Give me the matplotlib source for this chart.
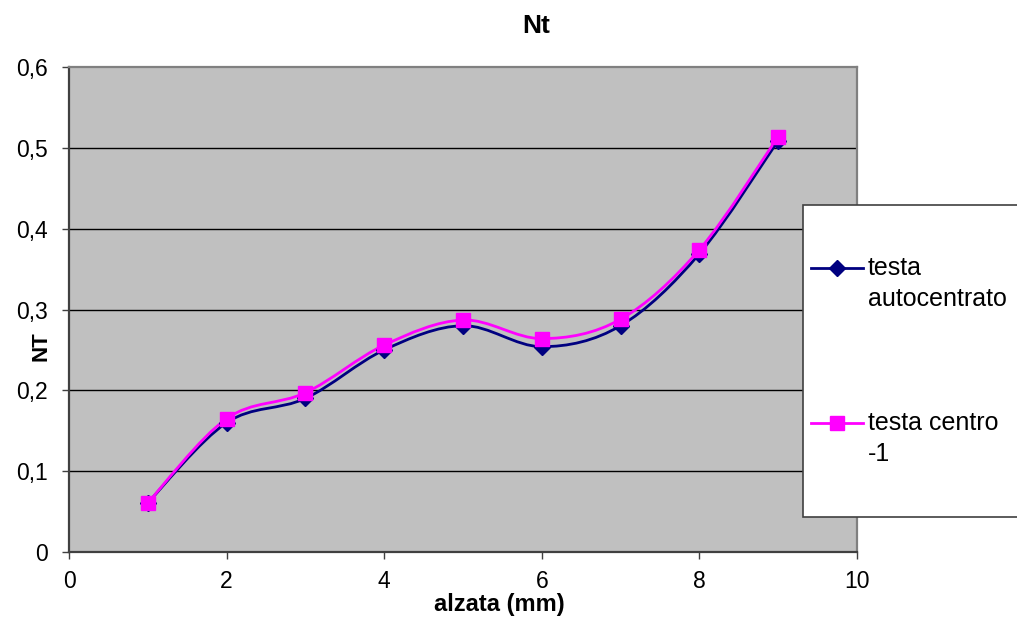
import numpy as np
import matplotlib
matplotlib.use("Agg")
import matplotlib.pyplot as plt
from matplotlib.path import Path
from matplotlib.patches import PathPatch, Rectangle
from matplotlib.lines import Line2D

plt.rcParams["font.family"] = ["Liberation Sans", "DejaVu Sans"]

# data
alzata = [1, 2, 3, 4, 5, 6, 7, 8, 9]
testa_autocentrato = [0.061, 0.160, 0.190, 0.250, 0.280, 0.254, 0.280, 0.369, 0.509]
testa_centro_m1 = [0.061, 0.165, 0.197, 0.256, 0.287, 0.264, 0.288, 0.374, 0.514]
series_names = ["testa\nautocentrato", "testa centro\n-1"]
x_ticks = [0, 2, 4, 6, 8, 10]
y_ticks = [0, 0.1, 0.2, 0.3, 0.4, 0.5, 0.6]
y_tick_labels = ["0", "0,1", "0,2", "0,3", "0,4", "0,5", "0,6"]

W, H = 1017, 617
fig = plt.figure(figsize=(W / 100, H / 100), dpi=100)
fig.patch.set_facecolor("white")


def fx(px):
    return px / W


def fy(py):
    return 1 - py / H


ax = fig.add_axes([fx(69), fy(552), fx(857) - fx(69), fy(67) - fy(552)])
ax.set_facecolor("#C0C0C0")
ax.set_xlim(0, 10)
ax.set_ylim(0, 0.6)


def smooth_path(xs, ys):
    """Catmull-Rom style cubic Bezier path through the points."""
    pts = np.column_stack([xs, ys]).astype(float)
    n = len(pts)
    verts = [pts[0]]
    codes = [Path.MOVETO]
    for i in range(n - 1):
        p0 = pts[i - 1] if i > 0 else pts[i]
        p1 = pts[i]
        p2 = pts[i + 1]
        p3 = pts[i + 2] if i + 2 < n else pts[i + 1]
        c1 = p1 + (p2 - p0) / 6.0
        c2 = p2 - (p3 - p1) / 6.0
        verts += [c1, c2, p2]
        codes += [Path.CURVE4] * 3
    return Path(verts, codes)


styles = [
    dict(color="#000080", marker="D", ms=8.5),
    dict(color="#FF00FF", marker="s", ms=10.5),
]

for ys, st in zip([testa_autocentrato, testa_centro_m1], styles):
    ax.add_patch(PathPatch(smooth_path(alzata, ys), facecolor="none",
                           edgecolor=st["color"], lw=2.0, zorder=3))
    ax.plot(alzata, ys, linestyle="none", marker=st["marker"], ms=st["ms"],
            color=st["color"], markeredgecolor=st["color"], zorder=4,
            clip_on=False)

# grid
for yv in y_ticks[1:-1]:
    ax.axhline(yv, color="black", lw=1.0, zorder=1)

for side in ["top", "right"]:
    ax.spines[side].set_color("#808080")
    ax.spines[side].set_linewidth(1.6)
for side in ["left", "bottom"]:
    ax.spines[side].set_color("#404040")
    ax.spines[side].set_linewidth(1.6)

ax.set_xticks(x_ticks)
ax.set_xticklabels([str(v) for v in x_ticks])
ax.set_yticks(y_ticks)
ax.set_yticklabels(y_tick_labels)
ax.tick_params(axis="both", direction="out", length=5, width=1.0,
               color="#404040", labelsize=16.5, labelcolor="black")
ax.tick_params(axis="y", pad=10)
ax.tick_params(axis="x", pad=8)

# titles
fig.text(fx(536), fy(26), "Nt", ha="center", va="center",
         fontsize=19, fontweight="bold")
fig.text(fx(499), fy(604), "alzata (mm)", ha="center", va="center",
         fontsize=17, fontweight="bold")
fig.text(fx(41), fy(346), "NT", ha="center", va="center", rotation=90,
         fontsize=16, fontweight="bold")

# legend box in pixel coordinates
lax = fig.add_axes([0, 0, 1, 1], zorder=10)
lax.set_xlim(0, W)
lax.set_ylim(H, 0)
lax.axis("off")
lax.add_patch(Rectangle((803, 205), 260, 312, facecolor="white",
                        edgecolor="#404040", lw=1.2, clip_on=False))
entry_y = [268, 423]
for name, st, yy in zip(series_names, styles, entry_y):
    lax.add_line(Line2D([811, 863], [yy, yy], color=st["color"], lw=2.0))
    lax.add_line(Line2D([837], [yy], marker=st["marker"], ms=st["ms"],
                        color=st["color"], markeredgecolor=st["color"]))
    for k, line in enumerate(name.split("\n")):
        lax.text(868, yy + k * 31, line, ha="left", va="center", fontsize=18)

fig.savefig("out.png", dpi=100, facecolor="white")
